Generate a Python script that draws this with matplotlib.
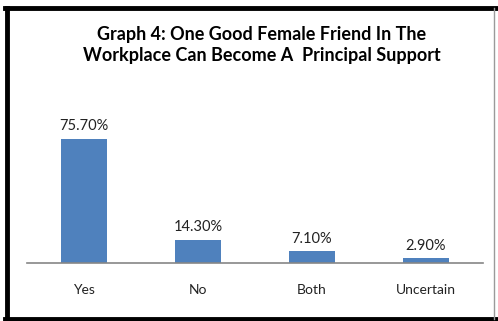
import matplotlib.pyplot as plt
from matplotlib.lines import Line2D

categories = ["Yes", "No", "Both", "Uncertain"]
values = [75.7, 14.3, 7.1, 2.9]
labels = ["75.70%", "14.30%", "7.10%", "2.90%"]

plt.rcParams['font.family'] = ['Lato', 'DejaVu Sans']

fig = plt.figure(figsize=(4.98, 3.21), dpi=100)
ax = fig.add_axes([27/498, 1 - 263/321, 456/498, 173/321])

x = list(range(len(categories)))
ax.bar(x, values, width=0.4, color="#4F81BD")
for xi, v, lab in zip(x, values, labels):
    ax.text(xi, v + 3.5, lab, ha="center", va="bottom", fontsize=10.5, color="#222222")

ax.set_xlim(-0.5, 3.5)
ax.set_ylim(0, 105.5)
ax.set_xticks(x)
ax.set_xticklabels(categories, fontsize=10, color="#222222")
ax.tick_params(axis="x", length=0, pad=15)
ax.set_yticks([])
for s in ["top", "right", "left"]:
    ax.spines[s].set_visible(False)
ax.spines["bottom"].set_color("#868686")
ax.spines["bottom"].set_linewidth(1.2)

fig.text(262/498, 1 - 45/321,
         "Graph 4: One Good Female Friend In The\nWorkplace Can Become A  Principal Support",
         ha="center", va="center", fontsize=13, fontweight="bold", linespacing=1.35)

# frame: thick black left/top/bottom, thin gray right
W, H = 498, 321
fig.lines.append(Line2D([7/W, 7/W], [1 - 8/H, 1 - 319/H], transform=fig.transFigure,
                        color="black", linewidth=3.5))
fig.lines.append(Line2D([5/W, 1], [1 - 8/H, 1 - 8/H], transform=fig.transFigure,
                        color="black", linewidth=3.5))
fig.lines.append(Line2D([5/W, 1], [1 - 319/H, 1 - 319/H], transform=fig.transFigure,
                        color="black", linewidth=3.5))
fig.lines.append(Line2D([494/W, 494/W], [1 - 8/H, 1 - 319/H], transform=fig.transFigure,
                        color="#9a9a9a", linewidth=1))

fig.savefig("out.png", dpi=100)
